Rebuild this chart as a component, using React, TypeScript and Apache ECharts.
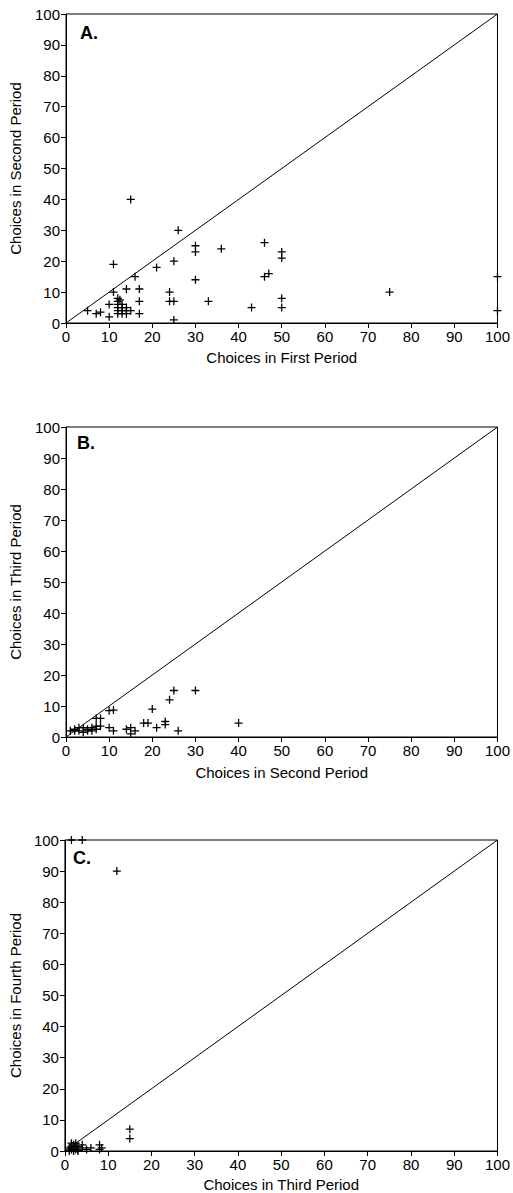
import React, { useEffect, useRef } from "react";
import * as echarts from "echarts";

const AXIS_MIN = 0;
const AXIS_MAX = 100;
const AXIS_STEP = 10;

const PANEL_LABELS = ["A.", "B.", "C."];
const X_TITLES = ["Choices in First Period", "Choices in Second Period", "Choices in Third Period"];
const Y_TITLES = ["Choices in Second Period", "Choices in Third Period", "Choices in Fourth Period"];

// Panel A: first period (x) vs second period (y)
const panelA: [number, number][] = [
  [15, 40], [26, 30], [30, 25], [30, 23], [36, 24], [25, 20], [11, 19], [21, 18],
  [16, 15], [30, 14], [11, 10], [14, 11], [17, 11], [24, 10], [12, 8], [12.5, 7.5],
  [12, 7], [17, 7], [24, 7], [25, 7], [33, 7], [43, 5], [5, 4], [7, 3], [8, 3.5],
  [10, 6], [10, 2], [12, 3], [17, 3], [25, 1], [12, 6], [13, 6], [13, 5], [14, 5],
  [13, 4], [14, 4], [15, 4], [12, 4], [13, 3], [14, 3], [12, 5],
  [46, 26], [50, 23], [50, 21], [46, 15], [47, 16], [50, 8], [50, 5], [75, 10],
  [100, 15], [100, 4],
];

// Panel B: second period (x) vs third period (y)
const panelB: [number, number][] = [
  [25, 15], [30, 15], [24, 12], [20, 9], [10, 8.5], [11, 8.7], [7, 6], [8, 6],
  [18, 4.5], [19, 4.5], [23, 5], [23, 4], [40, 4.5], [21, 3], [26, 2], [10, 3],
  [11, 2], [14, 2.5], [15, 3], [16, 2], [15, 1],
  [1, 2], [2, 2.5], [3, 3], [3, 2], [4, 1.5], [4, 3], [5, 2.5], [6, 2], [6, 3],
  [7, 2.5], [7, 3.5], [8, 3.5], [5, 2], [2, 2],
];

// Panel C: third period (x) vs fourth period (y)
const panelC: [number, number][] = [
  [1.5, 100], [4, 100], [12, 90], [15, 7], [15, 4], [8, 2], [8.5, 1], [8, 0.5],
  [6, 1], [5, 0.5], [4, 2], [4, 1], [3, 0.5], [3, 1.5], [2, 0], [2, 1], [2, 2],
  [1.5, 0.5], [1.5, 1.5], [1, 1], [2.5, 0.5], [2.5, 1.5], [3, 0], [1, 0],
  [2, 0.5], [1.5, 2.5], [2.5, 2.5],
];

const PANELS = [panelA, panelB, panelC];
const IDENTITY: [number, number][] = [[AXIS_MIN, AXIS_MIN], [AXIS_MAX, AXIS_MAX]];

const FONT = "'Liberation Sans', Arial, Helvetica, sans-serif";
const PLUS = "path://M4.2,0H5.8V4.2H10V5.8H5.8V10H4.2V5.8H0V4.2H4.2Z";

const GRIDS = [
  { left: 66, top: 14, width: 435, height: 309 },
  { left: 66, top: 427, width: 436, height: 310 },
  { left: 63, top: 840, width: 435, height: 311 },
];
const X_NAME_GAP = [27, 28, 26];
const Y_NAME_GAP = [43, 43, 40];
const LABEL_POS = [
  { x: 80, y: 24 },
  { x: 77, y: 434 },
  { x: 73, y: 849 },
];

export default function App() {
  const ref = useRef<HTMLDivElement>(null);
  useEffect(() => {
    if (!ref.current) return;
    const chart = echarts.init(ref.current, undefined, { renderer: "svg" });
    const axisCommon = {
      type: "value" as const,
      min: AXIS_MIN,
      max: AXIS_MAX,
      interval: AXIS_STEP,
      axisLine: { show: true, onZero: false, lineStyle: { color: "#000", width: 1 } },
      axisTick: { show: true, inside: false, length: 5, lineStyle: { color: "#000", width: 1 } },
      axisLabel: { color: "#000", fontSize: 15, fontFamily: FONT, margin: 6, showMaxLabel: true, showMinLabel: true },
      splitLine: { show: false },
      nameLocation: "middle" as const,
      nameTextStyle: { color: "#000", fontSize: 15, fontFamily: FONT },
    };
    const option: any = {
      animation: false,
      backgroundColor: "#fff",
      grid: GRIDS.map((g) => ({
        ...g,
        show: true,
        borderColor: "#000",
        borderWidth: 1,
        backgroundColor: "transparent",
        containLabel: false,
      })),
      xAxis: GRIDS.map((_, i) => ({
        ...axisCommon,
        gridIndex: i,
        name: X_TITLES[i],
        nameGap: X_NAME_GAP[i],
      })),
      yAxis: GRIDS.map((_, i) => ({
        ...axisCommon,
        gridIndex: i,
        name: Y_TITLES[i],
        nameGap: Y_NAME_GAP[i],
      })),
      series: [
        ...PANELS.map((_, i) => ({
          type: "line",
          xAxisIndex: i,
          yAxisIndex: i,
          data: IDENTITY,
          symbol: "none",
          silent: true,
          lineStyle: { color: "#000", width: 1 },
        })),
        ...PANELS.map((pts, i) => ({
          type: "scatter",
          xAxisIndex: i,
          yAxisIndex: i,
          data: pts,
          symbol: PLUS,
          symbolSize: 8,
          clip: false,
          itemStyle: { color: "#000", opacity: 1 },
        })),
      ],
      graphic: PANEL_LABELS.map((t, i) => ({
        type: "text",
        left: LABEL_POS[i].x,
        top: LABEL_POS[i].y,
        style: {
          text: t,
          fill: "#000",
          font: `bold 18px ${FONT}`,
        },
      })),
    };
    chart.setOption(option);
    return () => chart.dispose();
  }, []);
  return (
    <div
      ref={ref}
      style={{ position: "absolute", left: 0, top: 0, width: 513, height: 1193, background: "#fff" }}
    />
  );
}
